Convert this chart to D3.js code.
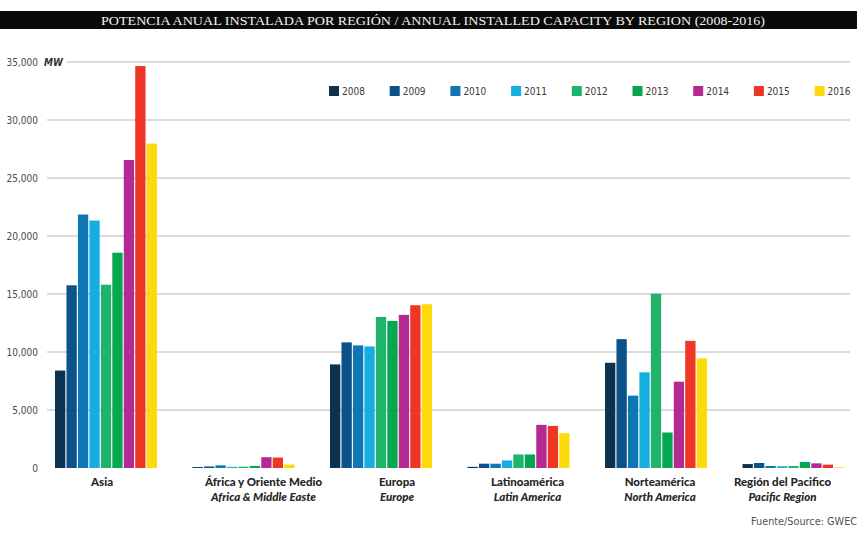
<!DOCTYPE html>
<html>
<head>
<meta charset="utf-8">
<script src="https://cdn.jsdelivr.net/npm/d3@7/dist/d3.min.js"></script>
<style>
  html, body { margin: 0; padding: 0; background: #fff; }
  svg { display: block; }
  .cond { font-family: "DejaVu Sans Condensed", "DejaVu Sans", sans-serif; font-stretch: condensed; }
</style>
</head>
<body>
<svg id="chart" width="857" height="535"></svg>
<script>
// Annual installed wind capacity (MW) by region, 2008-2016
const years = ["2008", "2009", "2010", "2011", "2012", "2013", "2014", "2015", "2016"];
const regionsEs = ["Asia", "África y Oriente Medio", "Europa", "Latinoamérica", "Norteamérica", "Región del Pacifico"];
const regionsEn = ["", "Africa & Middle Easte", "Europe", "Latin America", "North America", "Pacific Region"];

// one array per year, values in the order of the regions above
const v2008 = [8400, 80, 8930, 100, 9070, 340];
const v2009 = [15750, 130, 10830, 370, 11110, 430];
const v2010 = [21850, 230, 10570, 370, 6240, 170];
const v2011 = [21330, 100, 10480, 650, 8250, 150];
const v2012 = [15800, 110, 13020, 1170, 15030, 170];
const v2013 = [18560, 180, 12680, 1170, 3060, 520];
const v2014 = [26550, 930, 13200, 3720, 7440, 400];
const v2015 = [34650, 900, 14030, 3630, 10960, 290];
const v2016 = [27970, 300, 14120, 3000, 9450, 60];
const seriesValues = [v2008, v2009, v2010, v2011, v2012, v2013, v2014, v2015, v2016];

const yTicks = [0, 5000, 10000, 15000, 20000, 25000, 30000, 35000];
const colors = ["#0b3350", "#0a5288", "#0e76b5", "#16aee0", "#1fb46c", "#05a650", "#b52a92", "#ee3526", "#fddb0b"];

const titleText = "POTENCIA ANUAL INSTALADA POR REGIÓN / ANNUAL INSTALLED CAPACITY BY REGION (2008-2016)";
const unitText = "MW";
const sourceText = "Fuente/Source: GWEC";

const svg = d3.select("#chart");

// title band
svg.append("rect").attr("x", 0).attr("y", 11).attr("width", 857).attr("height", 18).attr("fill", "#0a0a0a");
svg.append("text")
  .attr("x", 433).attr("y", 24.5)
  .attr("text-anchor", "middle")
  .attr("fill", "#f2f2f2")
  .attr("font-family", "'Liberation Serif', 'DejaVu Serif', serif")
  .attr("font-size", 12)
  .attr("textLength", 664)
  .attr("lengthAdjust", "spacingAndGlyphs")
  .text(titleText);

// scales
const y = d3.scaleLinear().domain([0, 35000]).range([468, 62]);
const x0 = d3.scaleBand().domain(regionsEs).range([37.25, 862.25]).paddingInner(0.25).paddingOuter(0.125);
const x1 = d3.scaleBand().domain(years).range([0, x0.bandwidth()]).paddingInner(0.1).paddingOuter(0.05);
const color = d3.scaleOrdinal().domain(years).range(colors);

// gridlines
const grid = svg.append("g");
grid.selectAll("line")
  .data(yTicks.filter(d => d > 0))
  .join("line")
  .attr("x1", d => d === 35000 ? 67 : 47)
  .attr("x2", 850)
  .attr("y1", d => y(d)).attr("y2", d => y(d))
  .attr("stroke", "#cfcfcf")
  .attr("stroke-width", 1.6);

// y axis labels
const yAxis = svg.append("g")
  .attr("transform", "translate(38,0)")
  .call(d3.axisLeft(y).tickValues(yTicks).tickSize(0).tickPadding(0).tickFormat(d3.format(",")));
yAxis.select(".domain").remove();
yAxis.selectAll("text")
  .attr("class", "cond")
  .attr("font-size", 10)
  .attr("fill", "#4a4a4a");

svg.append("text")
  .attr("class", "cond")
  .attr("x", 44).attr("y", y(35000) + 3.5)
  .attr("font-size", 10)
  .attr("font-weight", "bold")
  .attr("font-style", "italic")
  .attr("fill", "#333")
  .text(unitText);

// bars
const groups = svg.append("g").selectAll("g")
  .data(regionsEs)
  .join("g")
  .attr("transform", d => `translate(${x0(d)},0)`);

groups.selectAll("rect")
  .data((d, i) => years.map((yr, j) => ({ year: yr, value: seriesValues[j][i] })))
  .join("rect")
  .attr("x", d => x1(d.year))
  .attr("width", x1.bandwidth())
  .attr("y", d => y(d.value))
  .attr("height", d => y(0) - y(d.value))
  .attr("fill", d => color(d.year));

// category labels (shifted slightly from the band centre, as typeset)
const labelShift = [-4, 20, 16, 9, 4, -11];
const labels = svg.append("g").selectAll("g")
  .data(regionsEs)
  .join("g")
  .attr("transform", (d, i) => `translate(${x0(d) + x0.bandwidth() / 2 + labelShift[i]},0)`)
  .attr("text-anchor", "middle")
  .attr("font-family", "Lato, 'Open Sans', sans-serif")
  .attr("font-weight", 900)
  .attr("font-size", 11.5)
  .attr("fill", "#262626");
labels.append("text").attr("y", 486).text(d => d);
labels.append("text").attr("y", 501).attr("font-style", "italic").text((d, i) => regionsEn[i]);

// legend
const legend = svg.append("g").selectAll("g")
  .data(years)
  .join("g")
  .attr("transform", (d, i) => `translate(${329 + i * 60.7},86)`);
legend.append("rect").attr("width", 10).attr("height", 10).attr("fill", d => color(d));
legend.append("text")
  .attr("class", "cond")
  .attr("x", 13).attr("y", 9.2)
  .attr("font-size", 10)
  .attr("fill", "#3a3a3a")
  .text(d => d);

// source note
svg.append("text")
  .attr("class", "cond")
  .attr("x", 751).attr("y", 525)
  .attr("font-size", 10.8)
  .attr("fill", "#555")
  .text(sourceText);
</script>
</body>
</html>
